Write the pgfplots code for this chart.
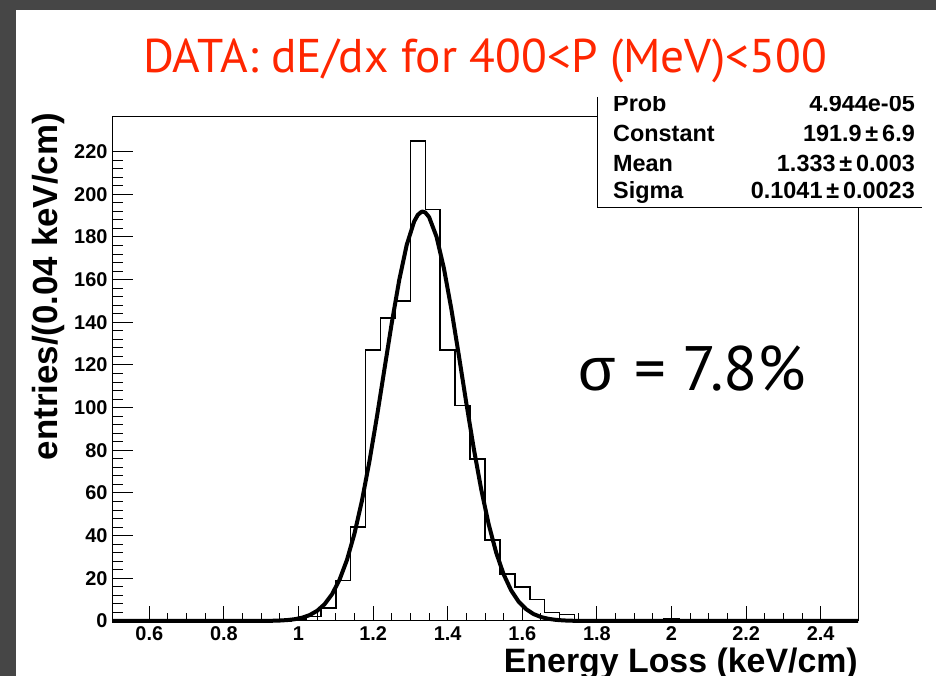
\documentclass[border=0pt]{standalone}
\usepackage{fontspec}
\usepackage{pgfplots}
\pgfplotsset{compat=1.18}
\usepackage{pgfplotstable}
\newfontfamily\rootfont{Liberation Sans}
\newfontfamily\slidefont{PT Sans}
\definecolor{slidebg}{RGB}{70,70,70}
\definecolor{titlered}{RGB}{255,38,0}

% dE/dx histogram: left bin edge (keV/cm) and entries per 0.04 keV/cm bin
\pgfplotstableread{
x y
0.50 0
0.98 1
1.02 2
1.06 6
1.10 19
1.14 44
1.18 127
1.22 142
1.26 150
1.30 225
1.34 193
1.38 127
1.42 101
1.46 76
1.50 38
1.54 22
1.58 16
1.62 10
1.66 4
1.70 3
1.74 0
1.98 1
2.02 0
2.50 0
}\histdata

% Gaussian fit: Constant 191.9, Mean 1.333, Sigma 0.1041
\pgfplotstableread{
x y
0.50 0.000
0.91 0.050
0.93 0.107
0.95 0.221
0.97 0.439
0.99 0.843
1.01 1.558
1.03 2.777
1.05 4.770
1.07 7.889
1.09 12.585
1.11 19.347
1.13 28.660
1.15 40.930
1.17 56.330
1.19 74.700
1.21 95.480
1.23 117.630
1.25 139.650
1.27 159.790
1.29 176.210
1.31 187.270
1.32 190.410
1.33 191.820
1.333 191.900
1.34 191.470
1.35 189.360
1.37 180.150
1.39 165.190
1.41 145.970
1.43 124.320
1.45 102.040
1.47 80.720
1.49 61.540
1.51 45.220
1.53 32.020
1.55 21.860
1.57 14.380
1.59 9.110
1.61 5.566
1.63 3.276
1.65 1.860
1.67 1.017
1.69 0.536
1.71 0.272
1.73 0.133
1.75 0.060
2.50 0.000
}\fitdata

\begin{document}
\begin{tikzpicture}[x=1bp,y=1bp]
\useasboundingbox (0,0) rectangle (936,676);
\fill[slidebg] (0,0) rectangle (936,676);
\fill[white] (16,0) rectangle (936,666);

\begin{axis}[
  at={(112bp,55bp)}, anchor=south west,
  scale only axis, width=746bp, height=504bp,
  xmin=0.5, xmax=2.5, ymin=0, ymax=236.25,
  clip=false,
  axis line style={line width=1bp, black},
  tick align=inside, xtick pos=bottom, ytick pos=left,
  xtick={0.6,0.8,1,1.2,1.4,1.6,1.8,2,2.2,2.4},
  ytick={0,20,...,220},
  minor x tick num=3, minor y tick num=4,
  xtick style={line width=1bp, black, /pgfplots/major tick length=15bp, /pgfplots/minor tick length=8bp},
  ytick style={line width=1bp, black, /pgfplots/major tick length=21bp, /pgfplots/minor tick length=11bp},
  /pgf/number format/assume math mode=true,
  ticklabel style={font=\rootfont\bfseries\fontsize{20}{20}\selectfont},
  xticklabel style={yshift=-2.5bp},
  yticklabel style={xshift=-1bp},
]
\addplot[const plot, line width=1.5bp, black] table {\histdata};
\addplot[line width=4bp, black, line join=round] table {\fitdata};
\end{axis}

% statistics box, cut off at the top
\fill[white] (597,468) rectangle (922,579);
\draw[line width=1bp] (597,579) -- (597,468) -- (922,468);
\draw[line width=1bp] (590,559) -- (597,559);
\begin{scope}
\clip (597,468) rectangle (936,579);
\begin{scope}[font=\rootfont\bfseries\fontsize{23.5}{23.5}\selectfont]
\node[anchor=base west, inner sep=0] at (613,564) {Prob};
\node[anchor=base east, inner sep=0] at (915,564) {4.944e-05};
\node[anchor=base west, inner sep=0] at (613,534) {Constant};
\node[anchor=base east, inner sep=0] at (915,534) {191.9\,±\,6.9};
\node[anchor=base west, inner sep=0] at (613,504) {Mean};
\node[anchor=base east, inner sep=0] at (915,504) {1.333\,±\,0.003};
\node[anchor=base west, inner sep=0] at (613,477) {Sigma};
\node[anchor=base east, inner sep=0] at (915,477) {0.1041\,±\,0.0023};
\end{scope}
\end{scope}

% axis titles
\node[rotate=90, anchor=base east, inner sep=0, font=\rootfont\bfseries\fontsize{35}{35}\selectfont] at (57,563) {entries/(0.04 keV/cm)};
\node[anchor=base east, inner sep=0, font=\rootfont\bfseries\fontsize{34}{34}\selectfont] at (858,3) {Energy Loss (keV/cm)};

% slide title and annotation
\node[anchor=base, inner sep=0, text=titlered, font=\slidefont\fontsize{47.5}{47.5}\selectfont] at (485,603) {DATA: dE/dx for 400<P (MeV)<500};
\node[anchor=base west, inner sep=0, font=\rootfont\fontsize{61}{61}\selectfont] at (578,285) {σ};
\node[anchor=base west, inner sep=0, font=\slidefont\fontsize{63}{63}\selectfont] at (634,285) {= 7.8\%};
\end{tikzpicture}
\end{document}
